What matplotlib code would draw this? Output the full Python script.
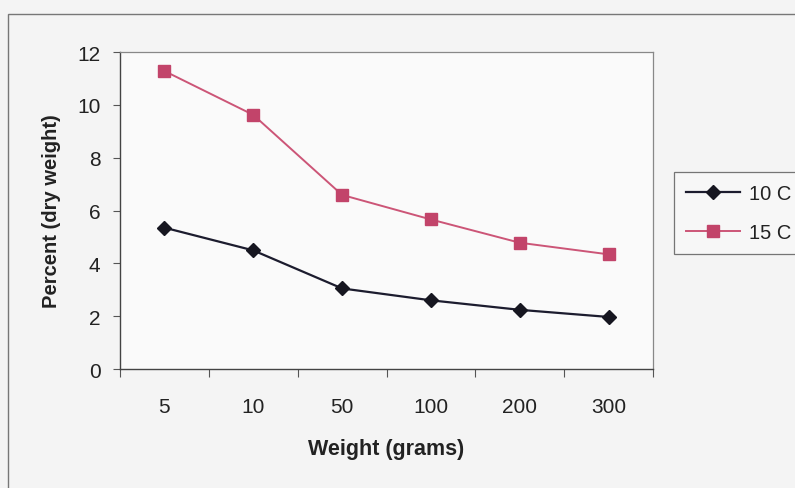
import matplotlib
matplotlib.use("Agg")
import matplotlib.pyplot as plt
from matplotlib.patches import Rectangle

plt.rcParams['font.family'] = ['Liberation Sans', 'DejaVu Sans']

weights = ['5', '10', '50', '100', '200', '300']
temp_10c = [5.35, 4.49, 3.05, 2.6, 2.24, 1.97]
temp_15c = [11.28, 9.62, 6.59, 5.66, 4.78, 4.34]
y_ticks = [0, 2, 4, 6, 8, 10, 12]

fig = plt.figure(figsize=(7.95, 4.89), dpi=100, facecolor='#f4f4f4')
ax = fig.add_axes([120 / 795, 1 - 370 / 489, 533 / 795, 317 / 489])
ax.set_facecolor('#fafafa')

# outer chart frame (scanned excel chart, cut off at right/bottom)
fig.patches.append(Rectangle((8 / 795, -0.1), 1.5, 1.1 - 15 / 489, transform=fig.transFigure,
                             fill=False, edgecolor='#777777', linewidth=1.0))

x = range(len(weights))
ax.plot(x, temp_10c, color='#1c1c2e', linewidth=1.6, marker='D', markersize=7,
        markerfacecolor='#161620', markeredgecolor='#161620', label='10 C')
ax.plot(x, temp_15c, color='#cc5577', linewidth=1.4, marker='s', markersize=8.5,
        markerfacecolor='#c2446a', markeredgecolor='#c2446a', label='15 C')

ax.set_xlim(-0.5, len(weights) - 0.5)
ax.set_ylim(0, 12)
ax.set_yticks(y_ticks)
ax.tick_params(axis='y', direction='out', length=5, width=0.8, color='#555555',
               labelsize=15, pad=9, labelcolor='#222222')

# excel style: ticks between categories, labels at category centres
ax.set_xticks([i - 0.5 for i in range(len(weights) + 1)])
ax.set_xticklabels([])
ax.set_xticks(list(x), minor=True)
ax.set_xticklabels(weights, minor=True)
ax.tick_params(axis='x', which='major', direction='out', length=6, width=0.8, color='#555555')
ax.tick_params(axis='x', which='minor', length=0, labelsize=15, pad=20, labelcolor='#222222')

for side in ['left', 'bottom']:
    ax.spines[side].set_color('#444444')
    ax.spines[side].set_linewidth(1.0)
for side in ['top', 'right']:
    ax.spines[side].set_color('#888888')
    ax.spines[side].set_linewidth(0.9)

ax.set_xlabel('Weight (grams)', fontsize=15.5, fontweight='bold', labelpad=16, color='#222222')
ax.set_ylabel('Percent (dry weight)', fontsize=14.5, fontweight='bold', labelpad=12, color='#222222')

leg = ax.legend(loc='upper left', bbox_to_anchor=(674 / 795, 1 - 173 / 489),
                bbox_transform=fig.transFigure, fontsize=14.5, frameon=True, fancybox=False,
                handlelength=2.7, handletextpad=0.4, borderpad=0.6, labelspacing=1.0,
                borderaxespad=0)
leg.get_frame().set_edgecolor('#555555')
leg.get_frame().set_facecolor('#f8f8f8')
leg.get_frame().set_linewidth(0.9)
for t in leg.get_texts():
    t.set_color('#222222')

fig.savefig('out.png', dpi=100, facecolor=fig.get_facecolor())
